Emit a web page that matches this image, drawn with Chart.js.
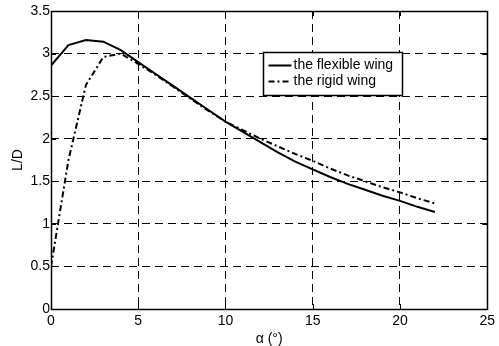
<!DOCTYPE html>
<html>
<head>
<meta charset="utf-8">
<script src="https://cdn.jsdelivr.net/npm/chart.js@4"></script>
<style>
    html, body { margin: 0; padding: 0; background: #fff; }
    #wrap { width: 499px; height: 346px; }
</style>
</head>
<body>
<div id="wrap"><canvas id="ldChart" width="499" height="346"></canvas></div>
<script>
const alpha = [0, 1, 2, 3, 4, 5, 6, 7, 8, 9, 10, 11, 12, 13, 14, 15, 16, 17, 18, 19, 20, 21, 22];
const flexibleLD = [2.86, 3.10, 3.16, 3.14, 3.04, 2.90, 2.76, 2.62, 2.48, 2.34, 2.20, 2.08, 1.96, 1.84, 1.73, 1.64, 1.55, 1.47, 1.40, 1.33, 1.27, 1.20, 1.14];
const rigidLD = [0.50, 1.75, 2.63, 2.96, 3.00, 2.88, 2.75, 2.61, 2.47, 2.33, 2.20, 2.10, 2.00, 1.91, 1.82, 1.74, 1.65, 1.57, 1.50, 1.43, 1.37, 1.30, 1.24];
const seriesNames = ['the flexible wing', 'the rigid wing'];
const xLabel = 'α (°)';
const yLabel = 'L/D';

const FONT = '"Liberation Sans", Arial, Helvetica, sans-serif';
const RIGID_DASH = [6, 3, 2, 3];
const GRID_DASH = [8, 5];

function toPoints(xs, ys) {
    return xs.map((x, i) => ({ x, y: ys[i] }));
}

// box around the axes + inward tick marks, MATLAB style
const boxAndTicks = {
    id: 'boxAndTicks',
    afterDatasetsDraw(chart) {
        const { ctx, chartArea: a, scales } = chart;
        ctx.save();
        ctx.strokeStyle = '#000';
        ctx.lineWidth = 1;
        ctx.setLineDash([]);
        ctx.beginPath();
        scales.x.ticks.forEach((t) => {
            const px = Math.round(scales.x.getPixelForValue(t.value)) + 0.5;
            ctx.moveTo(px, a.bottom); ctx.lineTo(px, a.bottom - 5);
            ctx.moveTo(px, a.top); ctx.lineTo(px, a.top + 5);
        });
        scales.y.ticks.forEach((t) => {
            const py = Math.round(scales.y.getPixelForValue(t.value)) + 0.5;
            ctx.moveTo(a.left, py); ctx.lineTo(a.left + 5, py);
            ctx.moveTo(a.right, py); ctx.lineTo(a.right - 5, py);
        });
        ctx.stroke();
        ctx.lineWidth = 1.5;
        ctx.strokeRect(Math.round(a.left) + 0.5, Math.round(a.top) + 0.5,
            Math.round(a.right - a.left), Math.round(a.bottom - a.top));
        ctx.restore();
    },
};

// legend drawn inside the plot
const boxLegend = {
    id: 'boxLegend',
    afterDraw(chart) {
        const { ctx } = chart;
        const x0 = 263.5, y0 = 52.5, w = 139, h = 43;
        ctx.save();
        ctx.fillStyle = '#fff';
        ctx.fillRect(x0, y0, w, h);
        ctx.strokeStyle = '#000';
        ctx.lineWidth = 1.5;
        ctx.setLineDash([]);
        ctx.strokeRect(x0, y0, w, h);
        ctx.font = '14px ' + FONT;
        ctx.textBaseline = 'middle';
        ctx.fillStyle = '#000';
        chart.data.datasets.forEach((ds, i) => {
            const ly = y0 + 13 + i * 16;
            ctx.lineWidth = 2;
            ctx.setLineDash(ds.borderDash || []);
            ctx.beginPath();
            ctx.moveTo(x0 + 5, ly);
            ctx.lineTo(x0 + 28, ly);
            ctx.stroke();
            ctx.setLineDash([]);
            ctx.fillText(ds.label, x0 + 30, ly);
        });
        ctx.restore();
    },
};

new Chart(document.getElementById('ldChart').getContext('2d'), {
    type: 'scatter',
    data: {
        datasets: [{
            label: seriesNames[0],
            data: toPoints(alpha, flexibleLD),
            showLine: true,
            borderColor: '#000',
            borderWidth: 2,
            pointRadius: 0,
            tension: 0,
        }, {
            label: seriesNames[1],
            data: toPoints(alpha, rigidLD),
            showLine: true,
            borderColor: '#000',
            borderWidth: 2,
            borderDash: RIGID_DASH,
            pointRadius: 0,
            tension: 0,
        }],
    },
    options: {
        responsive: false,
        animation: false,
        events: [],
        layout: { padding: { top: 11, right: 8, left: 0, bottom: 0 } },
        plugins: {
            legend: { display: false },
            tooltip: { enabled: false },
        },
        scales: {
            x: {
                type: 'linear',
                min: 0,
                max: 25,
                afterFit: (s) => { s.height = 37; },
                ticks: { stepSize: 5, color: '#000', padding: 4, font: { family: FONT, size: 14 } },
                grid: { color: '#000', lineWidth: 1, drawTicks: false },
                border: { display: false, dash: GRID_DASH },
                title: { display: true, text: xLabel, color: '#000', padding: { top: 0, bottom: -2 }, font: { family: FONT, size: 14 } },
            },
            y: {
                type: 'linear',
                min: 0,
                max: 3.5,
                afterFit: (s) => { s.width = 51; },
                ticks: {
                    stepSize: 0.5,
                    color: '#000',
                    padding: 1,
                    font: { family: FONT, size: 14 },
                    callback: (v) => String(v),
                },
                grid: { color: '#000', lineWidth: 1, drawTicks: false },
                border: { display: false, dash: GRID_DASH },
                title: { display: true, text: yLabel, color: '#000', padding: { top: 10, bottom: 0 }, font: { family: FONT, size: 14 } },
            },
        },
    },
    plugins: [boxAndTicks, boxLegend],
});
</script>
</body>
</html>
